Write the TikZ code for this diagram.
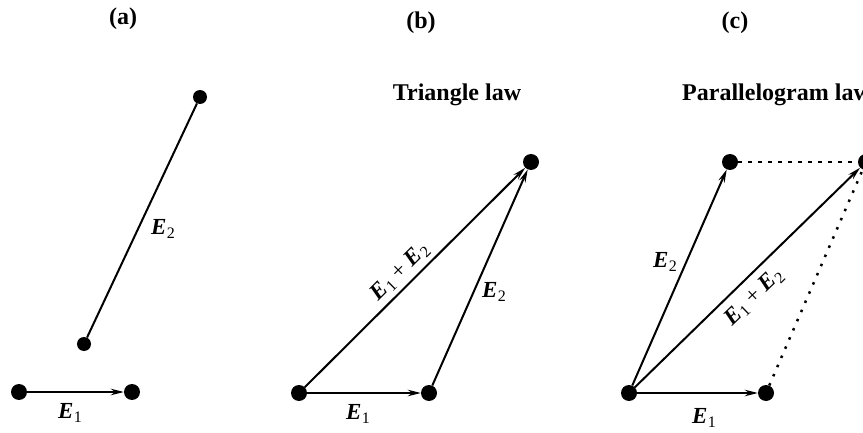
\documentclass[tikz,border=0pt]{standalone}
\usepackage{fontspec}
\setmainfont{Liberation Serif}
\usetikzlibrary{arrows.meta}
\newcommand{\vE}[1]{{\bfseries\itshape E}\kern0.5pt\raisebox{-0.35ex}{\fontsize{16}{16}\selectfont #1}}
\begin{document}
\begin{tikzpicture}[x=1pt,y=-1pt,
  dot/.style={circle,fill=black,inner sep=0pt,minimum size=16pt},
  sdot/.style={circle,fill=black,inner sep=0pt,minimum size=14pt},
  vec/.style={line width=2pt,-{Stealth[length=13pt,width=6.5pt]}},
  seg/.style={line width=2pt},
  dsh/.style={line width=2.2pt,dash pattern=on 4pt off 6pt},
  dtt/.style={line width=2.5pt,dash pattern=on 2.5pt off 7.5pt},
  lab/.style={font=\fontsize{23}{23}\selectfont,inner sep=1pt},
  ttl/.style={font=\fontsize{24}{24}\selectfont\bfseries,inner sep=0pt}]
\useasboundingbox (0,0) rectangle (863,433);
% titles
\node[ttl] (ta) at (123,19) {(a)};
\node[ttl] (tb) at (421,23) {(b)};
\node[ttl] (tc) at (735,23) {(c)};
\node[ttl] (tri) at (457,95) {Triangle law};
\node[ttl,anchor=west] (par) at (682,95) {Parallelogram law};
% (a)
\node[dot] (a1) at (19,392) {};
\node[dot] (a2) at (132,392) {};
\node[sdot] (a3) at (84,344) {};
\node[sdot] (a4) at (200,97) {};
\draw[vec] (a1) -- (a2);
\draw[seg] (a3) -- (a4);
\node[lab] (la1) at (70,413) {\vE{1}};
\node[lab] (la2) at (163,229) {\vE{2}};
% (b)
\node[dot] (b1) at (299,393) {};
\node[dot] (b2) at (429,393) {};
\node[dot] (b3) at (531,162) {};
\draw[vec] (b1) -- (b2);
\draw[vec] (b2) -- (b3);
\draw[vec] (b1) -- (b3);
\node[lab] (lb1) at (358,414) {\vE{1}};
\node[lab] (lb2) at (494,292) {\vE{2}};
\node[lab,rotate=45] (lb3) at (400,272) {\vE{1} + \vE{2}};
% (c)
\node[dot] (c1) at (629,393) {};
\node[dot] (c2) at (766,393) {};
\node[dot] (c3) at (730,162) {};
\node[dot] (c4) at (866,162) {};
\draw[vec] (c1) -- (c2);
\draw[vec] (c1) -- (c3);
\draw[vec] (c1) -- (c4);
\draw[dsh] (c3) -- (c4);
\draw[dtt] (c2) -- (c4);
\node[lab] (lc1) at (704,418) {\vE{1}};
\node[lab] (lc2) at (665,262) {\vE{2}};
\node[lab,rotate=44] (lc3) at (754,297) {\vE{1} + \vE{2}};
\end{tikzpicture}
\end{document}
